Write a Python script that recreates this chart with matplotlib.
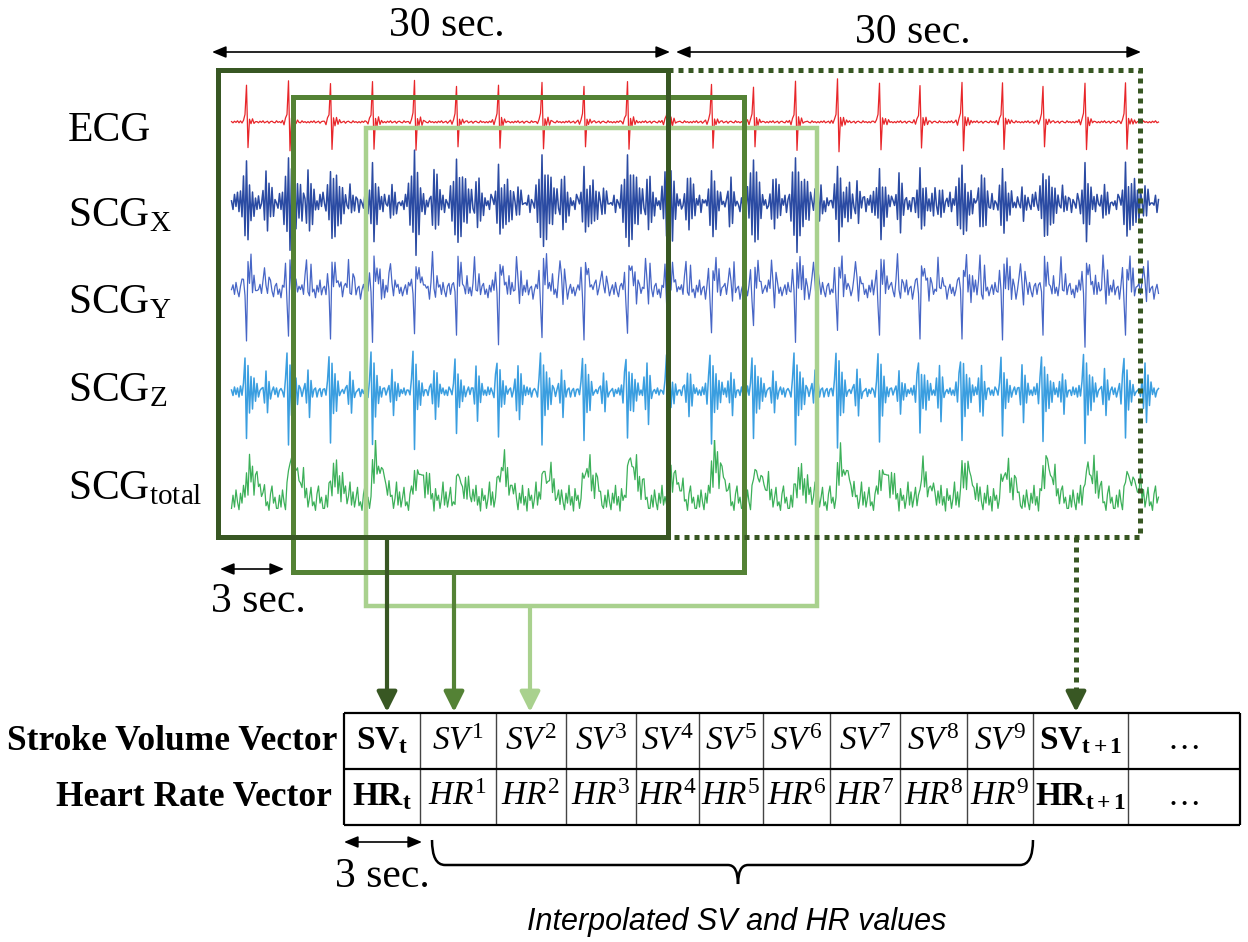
import numpy as np
import matplotlib.pyplot as plt
from matplotlib.patches import Rectangle, PathPatch
from matplotlib.path import Path

plt.rcParams['font.family'] = ['Liberation Serif', 'DejaVu Serif']
plt.rcParams['mathtext.fontset'] = 'custom'
plt.rcParams['mathtext.rm'] = 'Liberation Serif'
plt.rcParams['mathtext.it'] = 'Liberation Serif:italic'
plt.rcParams['mathtext.bf'] = 'Liberation Serif:bold'

# ---- signal data -------------------------------------------------------
fs = 10                      # samples per second
t_start, t_end = 0.9, 62.7   # recorded span (s); window 1 covers 0-30 s
beat_times = [1.9, 4.7, 7.5, 10.3, 13.1, 15.9, 18.7, 21.6, 24.4, 27.3, 30.0,
              32.9, 35.7, 38.5, 41.3, 44.1, 46.8, 49.6, 52.3, 55.0, 57.8, 60.5]
beat_gain = [0.9, 1.0, 0.95, 1.0, 1.05, 0.9, 0.95, 1.0, 0.9, 1.0, 0.95,
             0.95, 0.9, 1.0, 1.05, 0.95, 0.9, 1.0, 0.95, 0.9, 1.0, 1.0]
total_gain = [0.8, 1.1, 0.7, 1.2, 0.9, 0.6, 1.0, 0.8, 0.9, 1.1, 0.7,
              1.2, 0.8, 0.6, 1.1, 0.9, 0.7, 0.9, 0.8, 1.0, 0.9, 0.7]
s2_delay = 1.3               # second heart sound after the R peak (s)

ecg_beat = [0.03, -0.05, 0.08, 0.2, 1.0, -0.7, 0.1, -0.08, 0.1, -0.05, 0.03]
ecg_noise = [0.01, -0.02, 0.02, -0.01, 0.03, -0.02, 0.0, 0.02, -0.03, 0.01, 0.02, -0.01,
             -0.02, 0.03, -0.01, 0.01, -0.02]

scgx_beat = [0.2, -0.3, 0.5, -0.6, 1.0, -0.95, 0.6, -0.7, 0.45, -0.4, 0.35, -0.3, 0.25, -0.2, 0.15, -0.1]
scgx_s2 = [0.2, -0.35, 0.55, -0.5, 0.4, -0.3, 0.2, -0.1]
scgx_noise = [0.05, -0.15, 0.2, -0.08, 0.25, -0.2, 0.1, -0.05, 0.18, -0.22, 0.08, 0.0, -0.12,
              0.22, -0.15, 0.05, -0.2, 0.12, -0.06]

scgy_beat = [0.1, 0.35, -0.15, -1.0, 0.55, 0.2, 0.6, 0.05, 0.3, -0.1, 0.2, 0.0]
scgy_s2 = [0.15, 0.65, 0.1, -0.2, 0.4, 0.05]
scgy_noise = [0.05, 0.15, -0.05, 0.2, 0.02, -0.1, 0.12, 0.18, -0.05, 0.06, -0.12, 0.14, 0.0,
              0.25, -0.06, 0.08, 0.12, -0.15, 0.05, 0.16, -0.03, 0.1, -0.08]

scgz_beat = [0.1, -0.15, 0.3, 0.7, -1.0, 0.5, -0.4, 0.3, -0.3, 0.2, -0.15, 0.1]
scgz_s2 = [0.2, -0.3, 0.5, -0.55, 0.3, -0.2, 0.1]
scgz_noise = [0.04, -0.07, 0.1, -0.05, 0.08, -0.1, 0.03, 0.07, -0.09, 0.05, -0.03, 0.08, -0.06]

scgt_beat = [0.15, 0.45, 0.3, 0.65, 0.35, 0.55, 0.25, 0.45, 0.2, 0.35, 0.15, 0.2, 0.1, 0.05]
scgt_noise = [0.1, 0.3, 0.12, 0.38, 0.2, 0.08, 0.33, 0.18, 0.45, 0.15, 0.28, 0.06, 0.4, 0.22,
              0.3, 0.1, 0.25, 0.5, 0.15, 0.35, 0.12, 0.26, 0.42, 0.14, 0.2, 0.07, 0.32, 0.44,
              0.18, 0.27, 0.1]

# table contents
sv_cells = [r'$\mathbf{SV}_{\mathbf{t}}$'] + [r'$\mathit{SV}^{\mathit{%d}}$' % i for i in range(1, 10)] \
           + [r'$\mathbf{SV}_{\mathbf{t+1}}$', '…']
hr_cells = [r'$\mathbf{HR}_{\mathbf{t}}$'] + [r'$\mathit{HR}^{\mathit{%d}}$' % i for i in range(1, 10)] \
           + [r'$\mathbf{HR}_{\mathbf{t+1}}$', '…']

# ---- build traces --------------------------------------------------------
n = int(round((t_end - t_start) * fs)) + 1
t = t_start + np.arange(n) / fs


def paste(y, tpl, i0, g):
    for k, v in enumerate(tpl):
        if 0 <= i0 + k < n:
            y[i0 + k] += v * g


def build(noise, beat, peak_idx, s2=None, gains=beat_gain):
    y = np.resize(np.array(noise, dtype=float), n)
    for bt, g in zip(beat_times, gains):
        i = int(round((bt - t_start) * fs))
        paste(y, beat, i - peak_idx, g)
        if s2 is not None:
            paste(y, s2, i + int(round(s2_delay * fs)) - 2, g)
    return y


signals = [
    # values, colour, lw, centre px, px per unit
    (build(ecg_noise, ecg_beat, 4), '#E8262A', 0.9, 122, 40),
    (build(scgx_noise, scgx_beat, 4, scgx_s2), '#2B4BA3', 1.1, 203, 43),
    (build(scgy_noise, scgy_beat, 3, scgy_s2), '#4766C6', 0.9, 292, 48),
    (build(scgz_noise, scgz_beat, 4, scgz_s2), '#3A9EE0', 1.1, 392, 50),
    (build(scgt_noise, scgt_beat, 1, gains=total_gain), '#3CB059', 0.9, 515, 66),
]

W, H = 1248, 942
fig = plt.figure(figsize=(W / 100, H / 100), dpi=100)

x0_px, x1_px = 218, 1160       # 15 px per second
for y, col, lw, c_px, ppu in signals:
    top, bot = c_px - 75, c_px + 75
    sax = fig.add_axes([x0_px / W, 1 - bot / H, (x1_px - x0_px) / W, (bot - top) / H])
    sax.plot(t, y, color=col, lw=lw)
    sax.set_xlim(0, (x1_px - x0_px) / 15)
    sax.set_ylim((c_px - bot) / ppu, (c_px - top) / ppu)
    sax.axis('off')

# ---- diagram layer (pixel coordinates) --------------------------------
ax = fig.add_axes([0, 0, 1, 1])
ax.set_xlim(0, W)
ax.set_ylim(H, 0)
ax.axis('off')
ax.patch.set_visible(False)

dark, mid, light = '#385723', '#548235', '#A9D18E'
blw = 3.6

ax.add_patch(Rectangle((366, 128), 451, 478, fill=False, ec=light, lw=3.2))
ax.add_patch(Rectangle((293, 97), 451, 475, fill=False, ec=mid, lw=blw))
ax.add_patch(Rectangle((668, 70), 472, 467, fill=False, ec=dark, lw=blw, ls=(0, (1, 1))))
ax.add_patch(Rectangle((218, 70), 450, 467, fill=False, ec=dark, lw=blw))


def down_arrow(x, y0, y1, col, dotted=False):
    if dotted:
        ax.plot([x, x], [y0, y1 - 14], color=col, lw=blw, ls=(0, (1, 1)))
        y0 = y1 - 16
    ax.annotate('', xy=(x, y1), xytext=(x, y0),
                arrowprops=dict(arrowstyle='-|>,head_width=0.3,head_length=0.6', color=col,
                                lw=3, mutation_scale=20, shrinkA=0, shrinkB=0))


down_arrow(387, 537, 712, dark)
down_arrow(454, 572, 712, mid)
down_arrow(530, 606, 712, light)
down_arrow(1076, 537, 712, dark, dotted=True)


def span_arrow(xa, xb, y):
    ax.annotate('', xy=(xb, y), xytext=(xa, y),
                arrowprops=dict(arrowstyle='<|-|>,head_width=0.25,head_length=0.6', color='black',
                                lw=1.2, mutation_scale=14, shrinkA=0, shrinkB=0))


span_arrow(212, 670, 52)
span_arrow(676, 1141, 52)
span_arrow(220, 284, 569)
span_arrow(344, 422, 842)

ax.text(447, 36, '30 sec.', fontsize=30, ha='center', va='baseline')
ax.text(913, 43, '30 sec.', fontsize=30, ha='center', va='baseline')
ax.text(258, 612, '3 sec.', fontsize=30, ha='center', va='baseline')
ax.text(382, 887, '3 sec.', fontsize=30, ha='center', va='baseline')

# row labels
ax.text(68, 141, 'ECG', fontsize=30, va='baseline')
ax.text(68, 226, r'SCG$_{\mathrm{X}}$', fontsize=30, va='baseline')
ax.text(68, 313, r'SCG$_{\mathrm{Y}}$', fontsize=30, va='baseline')
ax.text(68, 401, r'SCG$_{\mathrm{Z}}$', fontsize=30, va='baseline')
ax.text(68, 499, r'SCG$_{\mathrm{total}}$', fontsize=30, va='baseline')

# ---- table -------------------------------------------------------------
col_edges = [344, 420, 496, 566, 636, 699, 763, 830, 900, 967, 1033, 1128, 1240]
row_edges = [713, 769, 825]
ax.vlines(col_edges[1:-1], row_edges[0], row_edges[-1], color='#444444', lw=1.0)
ax.hlines(row_edges, col_edges[0], col_edges[-1], color='black', lw=1.6)
ax.vlines([col_edges[0], col_edges[-1]], row_edges[0], row_edges[-1], color='black', lw=1.6)
for i in range(len(col_edges) - 1):
    xc = (col_edges[i] + col_edges[i + 1]) / 2
    ax.text(xc, 741, sv_cells[i], fontsize=24, ha='center', va='center')
    ax.text(xc, 797, hr_cells[i], fontsize=24, ha='center', va='center')

ax.text(337, 741, 'Stroke Volume Vector', fontsize=25.5, fontweight='bold', ha='right', va='center')
ax.text(332, 797, 'Heart Rate Vector', fontsize=25.5, fontweight='bold', ha='right', va='center')

# brace under the interpolated cells
verts = [(432, 840), (432, 865), (445, 865), (728, 865), (738, 865), (738, 884),
         (738, 865), (748, 865), (1020, 865), (1033, 865), (1033, 840)]
codes = [Path.MOVETO, Path.CURVE3, Path.CURVE3, Path.LINETO, Path.CURVE3, Path.CURVE3,
         Path.CURVE3, Path.CURVE3, Path.LINETO, Path.CURVE3, Path.CURVE3]
ax.add_patch(PathPatch(Path(verts, codes), fill=False, ec='black', lw=1.8))
ax.text(737, 930, 'Interpolated SV and HR values', fontsize=22, style='italic',
        family='Liberation Sans', ha='center', va='baseline')

fig.savefig('out.png', dpi=100)
